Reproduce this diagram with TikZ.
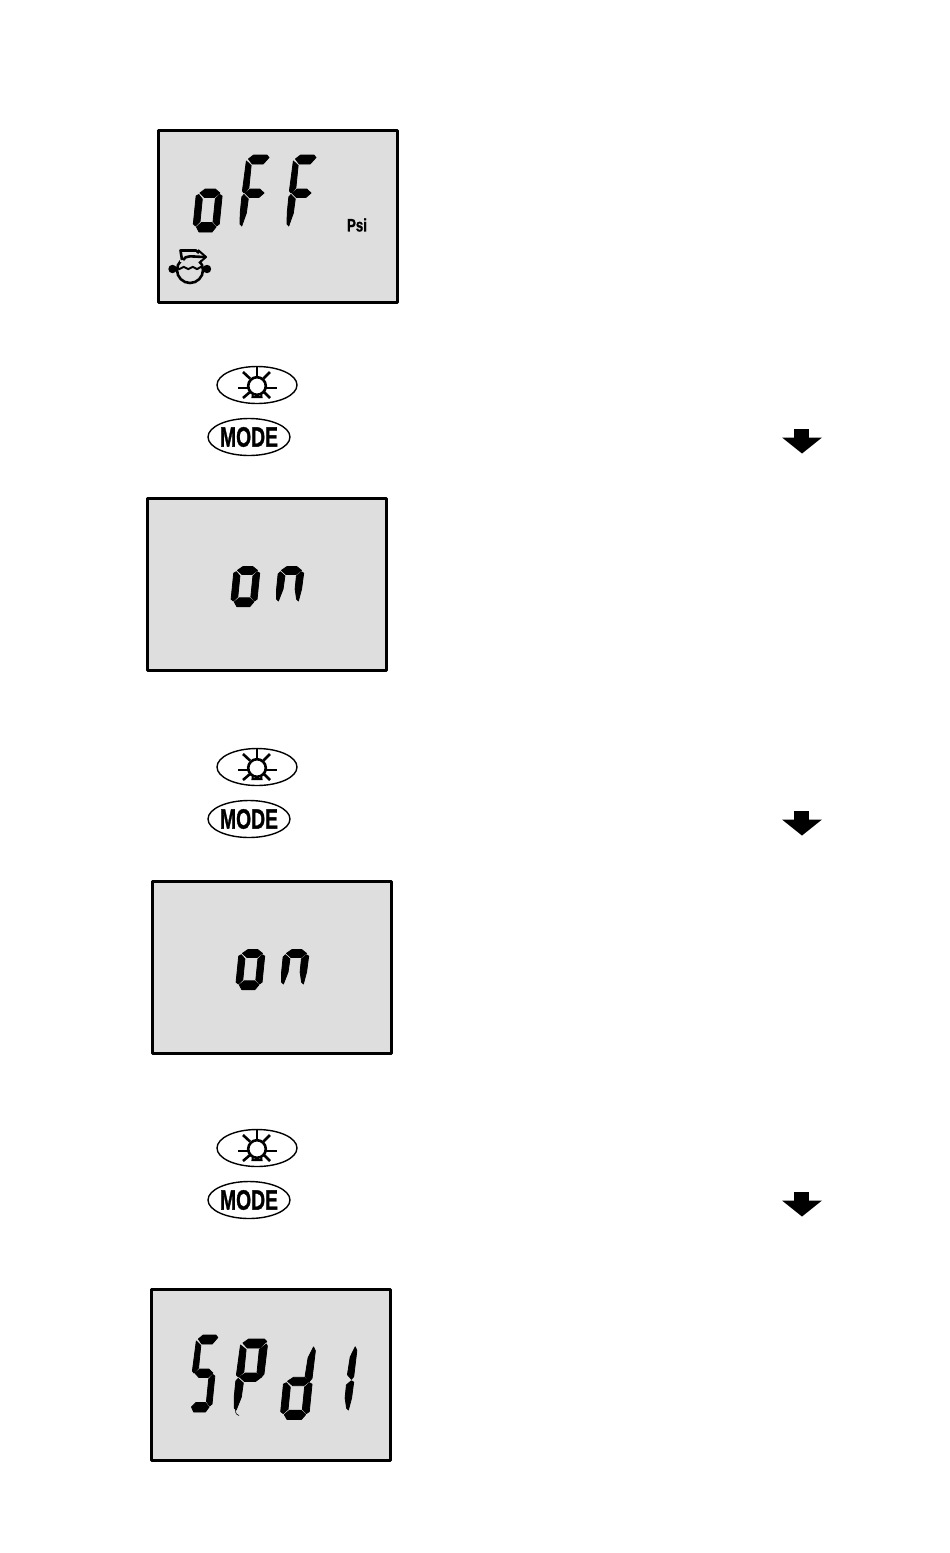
\documentclass[tikz,border=0pt]{standalone}
\usepackage{fontspec}
\usetikzlibrary{shapes.geometric}
\setmainfont{Liberation Sans}
\newfontfamily\heavy[BoldFeatures={FakeBold=1.3}]{Liberation Sans}
\definecolor{lcd}{HTML}{DEDEDE}
\tikzset{
  panel/.style={draw=black,line width=3pt,fill=lcd,line join=round,outer sep=0pt},
  seg/.style={fill=black,draw=black,line width=.8pt,line join=round},
  btn/.style={draw=black,line width=1.4pt,fill=white},
  ray/.style={draw=black,line width=2.6pt,line cap=butt},
  icon/.style={draw=black,line width=2.6pt,line join=round}
}
\newcommand{\sA}{\fill[seg] (3,4)--(8,0)--(22,0)--(24.5,2.5)--(19,9)--(7.5,9)--cycle;}
\newcommand{\sB}{\fill[seg] (24.5,5)--(25.5,7)--(25,35)--(23,38)--(18.5,33)--(18.5,10.5)--cycle;}
\newcommand{\sBt}{\fill[seg] (23.5,3)--(25.5,7)--(25,35)--(23,38)--(18.5,33)--(19.5,14)--cycle;}
\newcommand{\sC}{\fill[seg] (23,39.5)--(25.5,41)--(25.5,69)--(23,71)--(19,66.5)--(19,44)--cycle;}
\newcommand{\sCt}{\fill[seg] (23,39.5)--(25.5,41)--(25,58)--(23,71)--(21,69)--(18.5,58)--(18.5,44)--cycle;}
\newcommand{\sD}{\fill[seg] (3,72)--(7.5,67.5)--(18,67.5)--(22.5,72)--(19,77)--(6,77)--cycle;}
\newcommand{\sE}{\fill[seg] (-.5,41)--(2,39.5)--(6,44)--(6,66.5)--(2,71)--(-.5,69)--cycle;}
\newcommand{\sEt}{\fill[seg] (0,42)--(2,39.5)--(7,44)--(6.5,58)--(3,71)--(1,69)--(0,58)--cycle;}
\newcommand{\sF}{\fill[seg] (1,6)--(6.5,10.5)--(6.5,33)--(2,38)--(0,36)--cycle;}
\newcommand{\sG}{\fill[seg] (3,38)--(8,34)--(18,34)--(23,38)--(18,42.5)--(8,42.5)--cycle;}
% \digit{X}{Y}{xscale}{yscale}{segments}
\newcommand{\digit}[5]{\begin{scope}[cm={#3,0,0.1*#4,#4,(#1,#2)}]#5\end{scope}}
\newcommand{\lamp}[3]{%
  \begin{scope}[shift={(#1,#2)}]
    \node[btn,ellipse,minimum width=80pt,minimum height=37pt,inner sep=0pt] (lampbtn#3) at (0,0) {};
    \draw[ray] (0,1) circle (8.8);
    \draw[ray] (0,-19)--(0,-8);
    \draw[ray] (-19,3)--(-9,3);
    \draw[ray] (9,3)--(20,3);
    \draw[ray] (-14,-13)--(-7,-6.5);
    \draw[ray] (13,-13)--(6.5,-6.5);
    \draw[ray] (-14,13)--(-7,7);
    \draw[ray] (13,13)--(7,7);
    \draw[draw=black,line width=2pt] (-4,8)--(-4.5,12)--(4.5,12)--(4,8);
  \end{scope}}
\newcommand{\modebtn}[3]{%
  \node[btn,ellipse,minimum width=79pt,minimum height=37pt,inner sep=0pt,
        font=\heavy\bfseries\fontsize{28}{28}\selectfont] (modebtn#3) at (#1,#2) {\scalebox{.69}[1]{MODE}};}
\newcommand{\downarr}[3]{%
  \begin{scope}[shift={(#1,#2)}]
    \fill[black] (-8,0) rectangle (7,9);
    \fill[black] (-20,8.5)--(20,8.5)--(0,24.5)--cycle;
    \coordinate (arr#3) at (0,0);
  \end{scope}}
\begin{document}
\begin{tikzpicture}[x=1pt,y=-1pt]
\useasboundingbox (0,0) rectangle (950,1553);
\fill[white] (0,0) rectangle (950,1553);
% panels
\node[panel,minimum width=238.5pt,minimum height=171.5pt,inner sep=0pt,anchor=north west] (p1) at (158.5,130.5) {};
\node[panel,minimum width=238.5pt,minimum height=171.5pt,inner sep=0pt,anchor=north west] (p2) at (147.8,498.5) {};
\node[panel,minimum width=238.5pt,minimum height=171.5pt,inner sep=0pt,anchor=north west] (p3) at (152.8,881.5) {};
\node[panel,minimum width=238.5pt,minimum height=171pt,inner sep=0pt,anchor=north west] (p4) at (151.8,1289.5) {};
% oFF
\digit{200.7}{155}{1}{1}{\sG\sE\sC\sD}
\digit{246}{155}{.95}{1}{\sA\sF\sG\sEt}
\digit{293}{155}{.95}{1}{\sA\sF\sG\sEt}
\node[inner sep=0pt,font=\heavy\bfseries\fontsize{18}{18}\selectfont] (psi) at (357,225) {\scalebox{.74}[1]{Psi}};
% pump icon
\draw[icon] (190,270) circle (13);
\fill[lcd] (180,254) rectangle (200,262);
\draw[icon] (182,260)--(180.5,250.5)--(196,250.5)--(199,253);
\draw[icon] (183,260)..controls (186,255) and (190,256.5) .. (204,257);
\draw[icon,line width=2pt] (198,250)--(206,257)--(199,263);
\draw[icon,line width=2pt] (177,268)..controls (180,272) and (183,264) .. (186,268)..controls (189,272) and (192,264) .. (195,268)..controls (198,272) and (200,264) .. (203,268);
\fill[black] (172.5,269) circle (4.2);
\fill[black] (207,269) circle (4.2);
% on panels
\digit{238}{535}{1}{.93}{\sG\sE\sC\sD}
\digit{282}{535}{1}{.93}{\sG\sEt\sCt}
\digit{243}{918}{1}{.93}{\sG\sE\sC\sD}
\digit{287}{918}{1}{.93}{\sG\sEt\sCt}
% SPd1
\digit{196}{1335}{.9}{1}{\sA\sF\sG\sC\sD}
\digit{240}{1339}{1.1}{1}{\sA\sF\sB\sG\sEt}
\draw[line width=.6pt] (235.5,1410)..controls (235.5,1414) and (237,1415) .. (239,1415.5);
\digit{288}{1344}{1.1}{.98}{\sBt\sG\sE\sC\sD}
\digit{332}{1344}{1}{.93}{\sBt\sCt}
% buttons
\lamp{257}{385}{a}
\modebtn{249}{437}{a}
\downarr{802}{429}{a}
\lamp{257}{767}{b}
\modebtn{249}{819}{b}
\downarr{802}{811}{b}
\lamp{257}{1148}{c}
\modebtn{249}{1200}{c}
\downarr{802}{1192}{c}
\end{tikzpicture}
\end{document}
